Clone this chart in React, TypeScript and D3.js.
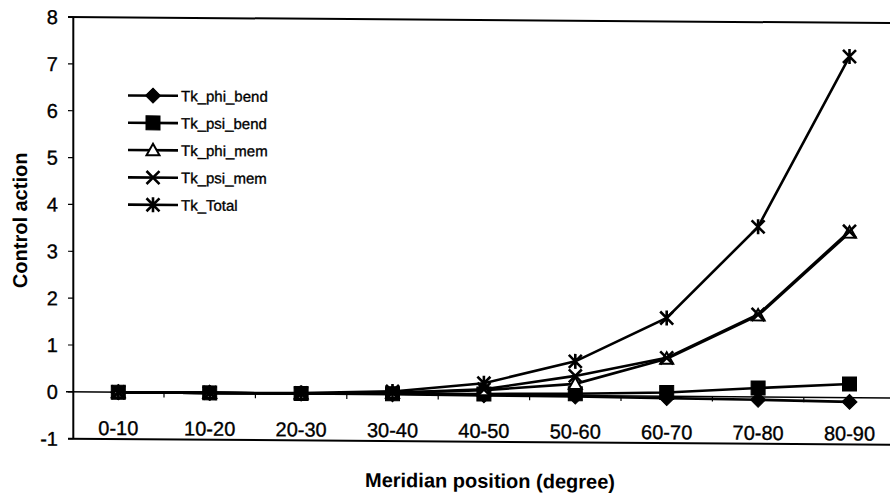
import React from "react";
import * as d3 from "d3";

const categories = ["0-10", "10-20", "20-30", "30-40", "40-50", "50-60", "60-70", "70-80", "80-90"];
const phiBend = [0, 0, 0, 0, -0.01, -0.02, -0.04, -0.06, -0.09];
const psiBend = [0, 0, 0, 0.01, 0.02, 0.04, 0.08, 0.19, 0.29];
const phiMem = [0, 0, 0, 0.03, 0.1, 0.25, 0.8, 1.74, 3.52];
const psiMem = [0, 0, 0, 0.03, 0.12, 0.42, 0.82, 1.76, 3.55];
const total = [0, 0, 0.01, 0.06, 0.25, 0.73, 1.67, 3.63, 7.28];
const yTicks = [-1, 0, 1, 2, 3, 4, 5, 6, 7, 8];
const seriesNames = ["Tk_phi_bend", "Tk_psi_bend", "Tk_phi_mem", "Tk_psi_mem", "Tk_Total"];
const markerKinds = ["diamond", "square", "triangle", "x", "asterisk"];
const seriesValues = [phiBend, psiBend, phiMem, psiMem, total];

const W = 890;
const H = 498;
const FONT = "'Liberation Sans', Arial, sans-serif";
const SKEW = 0.0074;
const SKEW_X0 = 110;

function markerPath(kind: string): string {
  const p = d3.path();
  if (kind === "diamond") {
    const r = 7.5;
    p.moveTo(0, -r);
    p.lineTo(r, 0);
    p.lineTo(0, r);
    p.lineTo(-r, 0);
    p.closePath();
  } else if (kind === "square") {
    const r = 7;
    p.rect(-r, -r, 2 * r, 2 * r);
  } else if (kind === "triangle") {
    p.moveTo(0, -6.5);
    p.lineTo(6.5, 5);
    p.lineTo(-6.5, 5);
    p.closePath();
  } else if (kind === "x") {
    const r = 6.5;
    p.moveTo(-r, -r);
    p.lineTo(r, r);
    p.moveTo(-r, r);
    p.lineTo(r, -r);
  } else {
    const r = 6.5;
    p.moveTo(-r, -r);
    p.lineTo(r, r);
    p.moveTo(-r, r);
    p.lineTo(r, -r);
    p.moveTo(0, -r - 1);
    p.lineTo(0, r + 1);
  }
  return p.toString();
}

function Marker({ kind, x, y }: { kind: string; x: number; y: number }) {
  const filled = kind === "diamond" || kind === "square";
  const fill = filled ? "#000" : kind === "triangle" ? "#fff" : "none";
  return (
    <path
      d={markerPath(kind)}
      transform={`translate(${x},${y})`}
      fill={fill}
      stroke="#000"
      strokeWidth={kind === "triangle" ? 2 : filled ? 1 : 2.6}
    />
  );
}

export default function App() {
  const x = d3
    .scaleBand<string>()
    .domain(categories)
    .range([72.6, 72.6 + 9 * 91.4])
    .padding(0);
  const y = d3.scaleLinear().domain([-1, 8]).range([439, 17.3]);
  const cx = (c: string) => (x(c) as number) + x.bandwidth() / 2;
  const line = d3
    .line<number>()
    .x((_, i) => cx(categories[i]))
    .y((v) => y(v));

  const left = 73.3;
  const right = 905;
  const textStroke = { stroke: "#000", strokeWidth: 0.35 };

  return (
    <svg
      width={W}
      height={H}
      style={{ position: "absolute", left: 0, top: 0, background: "#fff" }}
    >
      <rect x={0} y={0} width={W} height={H} fill="#fff" />
      <g transform={`matrix(1,${SKEW},0,1,0,${-SKEW * SKEW_X0})`}>
        {/* frame */}
        <line x1={68} x2={right} y1={y(8)} y2={y(8)} stroke="#000" strokeWidth={2} />
        <line x1={68} x2={right} y1={y(-1)} y2={y(-1)} stroke="#000" strokeWidth={2} />
        <line x1={left} x2={left} y1={y(8)} y2={y(-1)} stroke="#000" strokeWidth={2} />
        {/* y ticks */}
        {yTicks.map((t) => (
          <g key={t}>
            <line x1={68} x2={left} y1={y(t)} y2={y(t)} stroke="#000" strokeWidth={1.2} />
            <text
              x={58}
              y={y(t)}
              dy="0.36em"
              textAnchor="end"
              fontFamily={FONT}
              fontSize={20}
              fill="#000"
              {...textStroke}
            >
              {t}
            </text>
          </g>
        ))}
        {/* zero axis */}
        <line x1={66} x2={right} y1={y(0)} y2={y(0)} stroke="#000" strokeWidth={1.5} />
        {categories.map((c, i) =>
          i > 0 ? (
            <line
              key={"t" + c}
              x1={x(c) as number}
              x2={x(c) as number}
              y1={y(0)}
              y2={y(0) + 5}
              stroke="#000"
              strokeWidth={1.2}
            />
          ) : null
        )}
        {categories.map((c) => (
          <text
            key={"l" + c}
            x={cx(c)}
            y={435}
            textAnchor="middle"
            fontFamily={FONT}
            fontSize={20}
            fill="#000"
            {...textStroke}
          >
            {c}
          </text>
        ))}
        {/* axis titles */}
        <text
          x={490}
          y={485}
          textAnchor="middle"
          fontFamily={FONT}
          fontSize={20}
          fontWeight="bold"
          fill="#000"
        >
          Meridian position (degree)
        </text>
        <text
          transform={`translate(27,221) rotate(-90)`}
          textAnchor="middle"
          fontFamily={FONT}
          fontSize={20}
          fontWeight="bold"
          fill="#000"
        >
          Control action
        </text>
        {/* series */}
        {seriesValues.map((vals, si) => (
          <g key={"s" + si}>
            <path d={line(vals) || ""} fill="none" stroke="#000" strokeWidth={2.6} />
            {vals.map((v, i) => (
              <Marker key={i} kind={markerKinds[si]} x={cx(categories[i])} y={y(v)} />
            ))}
          </g>
        ))}
        {/* legend */}
        {seriesNames.map((n, i) => {
          const ly = 95.3 + i * 27.3;
          return (
            <g key={"lg" + n}>
              <line x1={128} x2={178} y1={ly} y2={ly} stroke="#000" strokeWidth={2.6} />
              <Marker kind={markerKinds[i]} x={153} y={ly} />
              <text
                x={181}
                y={ly}
                dy="0.36em"
                fontFamily={FONT}
                fontSize={15}
                fill="#000"
                {...textStroke}
              >
                {n}
              </text>
            </g>
          );
        })}
      </g>
    </svg>
  );
}
